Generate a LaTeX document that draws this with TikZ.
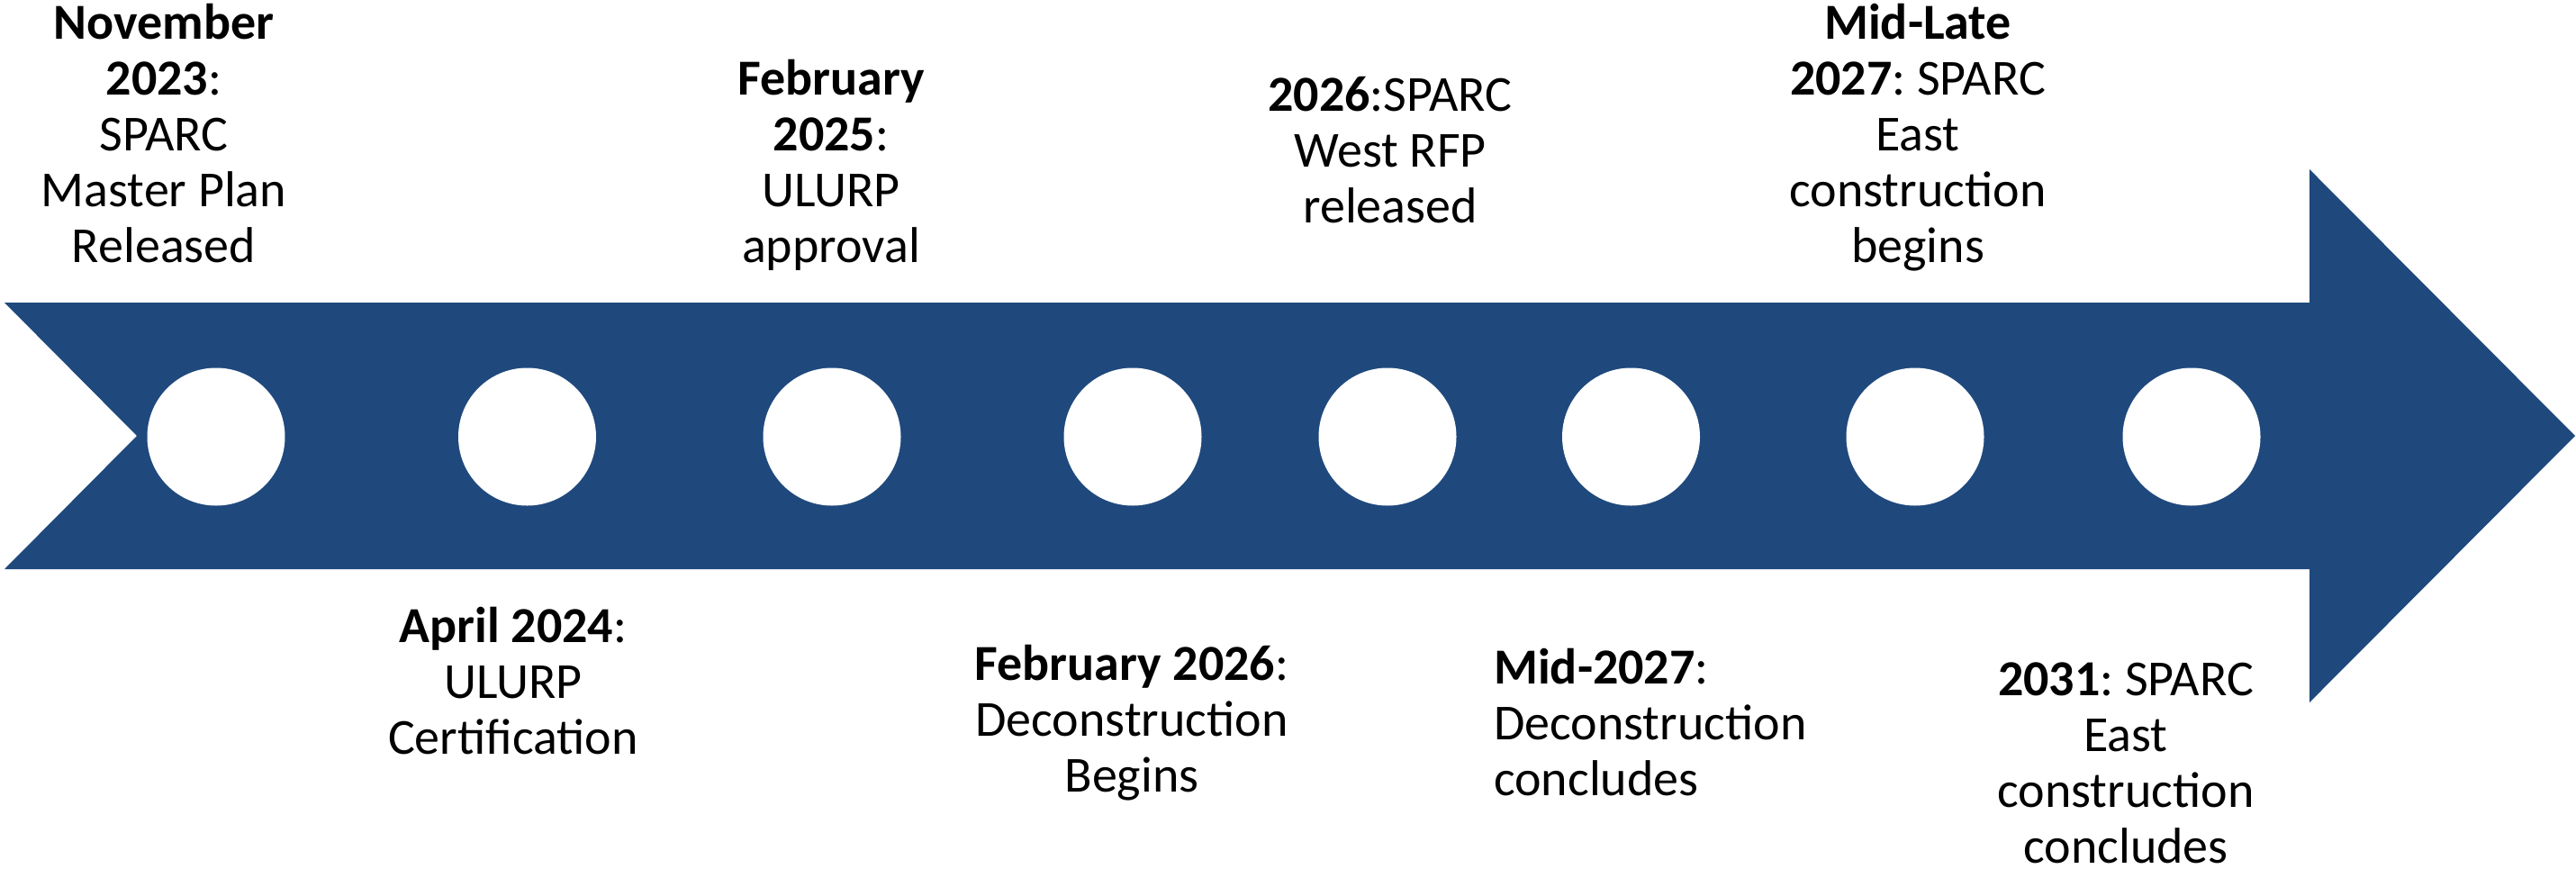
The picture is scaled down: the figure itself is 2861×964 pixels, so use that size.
\documentclass[tikz,border=0pt]{standalone}
\usepackage{fontspec}
\setmainfont{Carlito}
\frenchspacing
\definecolor{arrowblue}{HTML}{1F497D}
\begin{document}
\begin{tikzpicture}[x=1pt,y=-1pt,
  dot/.style={circle,fill=white,draw=none,inner sep=0pt,minimum size=153pt},
  lbl/.style={font=\fontsize{56}{62}\selectfont\frenchspacing,text width=420pt,align=flush center,inner sep=0pt,anchor=base},
  lbll/.style={font=\fontsize{56}{62}\selectfont\frenchspacing,text width=420pt,align=flush left,inner sep=0pt,anchor=base west}]
\useasboundingbox (0,0) rectangle (2861,964);
% arrow
\fill[arrowblue] (5,336) -- (2565,336) -- (2565,188) -- (2860,484) -- (2565,780)
  -- (2565,632) -- (5,632) -- (152,484) -- cycle;
% milestones
\node[dot] (d1) at (240,485) {};
\node[dot] (d2) at (585.5,485) {};
\node[dot] (d3) at (924,485) {};
\node[dot] (d4) at (1258,485) {};
\node[dot] (d5) at (1541,485) {};
\node[dot] (d6) at (1811.5,485) {};
\node[dot] (d7) at (2127,485) {};
\node[dot] (d8) at (2434,485) {};
% labels above
\node[lbl] (t1) at (182,43) {\textbf{November}\\\textbf{2023}:\\SPARC\\Master Plan\\Released};
\node[lbl] (t3) at (923,105) {\textbf{February}\\\textbf{2025}:\\ULURP\\approval};
\node[lbl] (t5) at (1544,123) {\textbf{2026}:SPARC\\West RFP\\released};
\node[lbl] (t7) at (2130,43) {\textbf{Mid-Late}\\\textbf{2027}: SPARC\\East\\construction\\begins};
% labels below
\node[lbl] (t2) at (570,713) {\textbf{April 2024}:\\ULURP\\Certification};
\node[lbl] (t4) at (1257,755) {\textbf{February 2026}:\\Deconstruction\\Begins};
\node[lbll] (t6) at (1659,759) {\textbf{Mid-2027}:\\Deconstruction\\concludes};
\node[lbl] (t8) at (2361,772) {\textbf{2031}: SPARC\\East\\construction\\concludes};
\end{tikzpicture}
\end{document}
